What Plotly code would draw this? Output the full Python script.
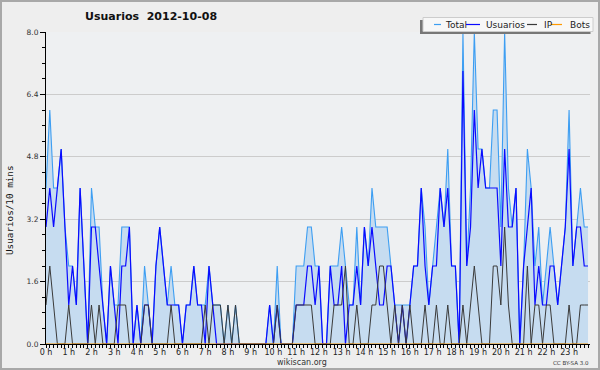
import plotly.graph_objects as go

# ---------------- data (10-minute slots, 0:00 .. 23:50) ----------------
total = [4, 6, 4, 4, 5, 3, 2, 2, 1, 4, 2, 0, 4, 3, 3, 1, 0, 2, 1, 1,
         3, 3, 3, 0, 1, 0, 2, 1, 0, 2, 3, 2, 1, 2, 1, 1, 0, 1, 1, 2,
         1, 1, 1, 2, 1, 1, 1, 0, 1, 0, 1, 0, 0, 0, 0, 0, 0, 0, 0, 1,
         0, 2, 0, 0, 0, 0, 2, 2, 2, 3, 3, 2, 2, 0, 0, 2, 2, 2, 3, 2,
         1, 1, 3, 1, 3, 2, 4, 3, 3, 3, 3, 2, 1, 1, 1, 1, 1, 2, 2, 4,
         3, 1, 2, 3, 4, 3, 5, 2, 2, 0, 8, 2, 4, 8, 5, 5, 4, 4, 6, 6,
         3, 8, 4, 3, 4, 0, 2, 5, 4, 2, 3, 1, 2, 3, 2, 1, 2, 3, 6, 2,
         3, 4, 3, 3]
usuarios = [3, 4, 3, 4, 5, 3, 1, 2, 1, 4, 2, 0, 3, 3, 2, 1, 0, 2, 1, 0,
            2, 2, 3, 0, 1, 0, 1, 1, 0, 2, 3, 2, 1, 1, 1, 1, 0, 1, 1, 2,
            1, 1, 0, 2, 1, 0, 0, 0, 0, 0, 0, 0, 0, 0, 0, 0, 0, 0, 0, 1,
            0, 1, 0, 0, 0, 0, 1, 1, 1, 2, 2, 1, 2, 0, 0, 2, 1, 1, 2, 0,
            1, 1, 2, 1, 3, 2, 3, 2, 1, 1, 2, 2, 1, 0, 1, 0, 1, 2, 2, 4,
            2, 1, 2, 2, 4, 3, 4, 2, 2, 0, 7, 2, 3, 6, 4, 5, 4, 4, 4, 4,
            2, 5, 3, 3, 4, 0, 2, 3, 4, 1, 2, 1, 1, 2, 2, 1, 2, 3, 5, 2,
            3, 3, 2, 2]
ip = [1, 2, 1, 0, 0, 0, 1, 0, 0, 0, 0, 0, 1, 0, 1, 0, 0, 0, 0, 1,
      1, 1, 0, 0, 0, 0, 1, 1, 0, 0, 0, 0, 0, 1, 0, 0, 0, 0, 0, 0,
      0, 0, 1, 0, 1, 1, 1, 0, 1, 0, 1, 0, 0, 0, 0, 0, 0, 0, 0, 0,
      0, 1, 0, 0, 0, 0, 1, 1, 1, 1, 1, 0, 0, 0, 0, 0, 1, 1, 1, 2,
      0, 0, 1, 0, 0, 0, 1, 1, 2, 2, 1, 0, 1, 0, 1, 0, 1, 0, 0, 0,
      1, 0, 0, 1, 0, 0, 1, 0, 0, 0, 1, 0, 1, 2, 1, 0, 0, 0, 2, 2,
      1, 3, 1, 0, 0, 0, 0, 2, 0, 1, 1, 0, 1, 1, 0, 0, 0, 0, 1, 0,
      0, 1, 1, 1]
bots = [0] * 144
slots = [i / 6 for i in range(144)]          # hours
hour_ticks = list(range(24))
hour_labels = [f"{h} h" for h in hour_ticks]
y_ticks = [0, 1.6, 3.2, 4.8, 6.4, 8.0]
y_labels = ["0.0", "1.6", "3.2", "4.8", "6.4", "8.0"]
legend_names = ["Total", "Usuarios", "IP", "Bots"]
colors = ["#3d9ef2", "#0a0aff", "#3a3a3a", "#ff9900"]

# ---------------- geometry helpers ----------------
W, H = 600, 370
L, R, T, B = 46, 10, 32, 26
PW, PH = W - L - R, H - T - B


def px(x):
    return (x - L) / PW


def py(y):
    return (H - B - y) / PH


fig = go.Figure()
fig.add_trace(go.Scatter(x=slots, y=total, mode="lines", name="Total",
                         line=dict(color=colors[0], width=1.1),
                         fill="tozeroy", fillcolor="#c6dcf0",
                         showlegend=False, hoverinfo="skip"))
fig.add_trace(go.Scatter(x=slots, y=usuarios, mode="lines", name="Usuarios",
                         line=dict(color=colors[1], width=1.2),
                         showlegend=False, hoverinfo="skip"))
fig.add_trace(go.Scatter(x=slots, y=ip, mode="lines", name="IP",
                         line=dict(color=colors[2], width=1),
                         showlegend=False, hoverinfo="skip"))
fig.add_trace(go.Scatter(x=slots, y=bots, mode="lines", name="Bots",
                         line=dict(color=colors[3], width=1),
                         showlegend=False, hoverinfo="skip"))

fig.update_layout(
    width=W, height=H, autosize=False,
    margin=dict(l=L, r=R, t=T, b=B, pad=0),
    paper_bgcolor="#eeeeee", plot_bgcolor="#eef0f2",
    font=dict(family="DejaVu Sans", color="#222222"),
    xaxis=dict(range=[0, 23.92], tickmode="array", tickvals=hour_ticks,
               ticktext=hour_labels, ticks="outside", ticklen=3,
               tickcolor="#000", showline=True, linecolor="#000",
               linewidth=1, showgrid=False, zeroline=False,
               ticklabelstandoff=-3,
               tickfont=dict(size=8, family="DejaVu Sans", color="#222"),
               minor=dict(tickmode="linear", tick0=0, dtick=1 / 6,
                          ticks="outside", ticklen=3, tickcolor="#000",
                          showgrid=False),
               fixedrange=True),
    yaxis=dict(range=[0, 8], tickmode="array", tickvals=y_ticks,
               ticktext=y_labels, ticks="outside", ticklen=5,
               tickcolor="#000", showline=True, linecolor="#000",
               linewidth=1, showgrid=True, gridcolor="#cccccc",
               gridwidth=1, zeroline=False,
               tickfont=dict(size=7.5, family="DejaVu Sans", color="#333"),
               minor=dict(tickmode="linear", tick0=0, dtick=0.4,
                          ticks="outside", ticklen=3, tickcolor="#000",
                          showgrid=False),
               fixedrange=True),
)

annotations = [
    dict(text="<b>Usuarios\u00a0\u00a02012-10-08</b>", x=px(151), y=py(17),
         font=dict(size=11, family="DejaVu Sans", color="#111"),
         xanchor="center", yanchor="middle"),
    dict(text="Usuarios/10 mins", x=px(9), y=py(210), textangle=-90,
         font=dict(size=9.3, family="DejaVu Sans Mono", color="#111"),
         xanchor="center", yanchor="middle"),
    dict(text="wikiscan.org", x=px(302), y=py(362),
         font=dict(size=8, family="DejaVu Sans", color="#333"),
         xanchor="center", yanchor="middle"),
    dict(text="CC BY-SA 3.0", x=px(591), y=py(363),
         font=dict(size=5.5, family="DejaVu Sans", color="#333"),
         xanchor="right", yanchor="middle"),
]

shapes = [
    # outer frame
    dict(type="rect", x0=px(1), x1=px(599), y0=py(369), y1=py(1),
         line=dict(color="#a8a8a8", width=2), layer="above"),
    # legend shadow + box
    dict(type="rect", x0=px(420), x1=px(590.5), y0=py(34), y1=py(20),
         line=dict(width=0), fillcolor="#777777", layer="above"),
    dict(type="rect", x0=px(423), x1=px(593), y0=py(31.5), y1=py(17.5),
         line=dict(color="#cccccc", width=1), fillcolor="#f7f7f7",
         layer="above"),
]

leg_line_x = [(434, 441), (466, 480), (527, 537), (551, 562)]
leg_text_x = [443, 484, 541.5, 568]
for name, col, (a, b), tx in zip(legend_names, colors, leg_line_x, leg_text_x):
    shapes.append(dict(type="line", x0=px(a), x1=px(b), y0=py(24.5),
                       y1=py(24.5), line=dict(color=col, width=1.2),
                       layer="above"))
    annotations.append(dict(text=name, x=px(tx), y=py(24.5),
                            font=dict(size=9, family="DejaVu Sans",
                                      color="#222"),
                            xanchor="left", yanchor="middle"))

for a in annotations:
    a.update(xref="paper", yref="paper", showarrow=False)
for s in shapes:
    s.update(xref="paper", yref="paper")

fig.update_layout(annotations=annotations, shapes=shapes)
fig.write_html("out.html",
               config={"displayModeBar": False, "staticPlot": True},
               post_script="document.body.style.margin='0';"
                           "document.body.style.overflow='hidden';")
